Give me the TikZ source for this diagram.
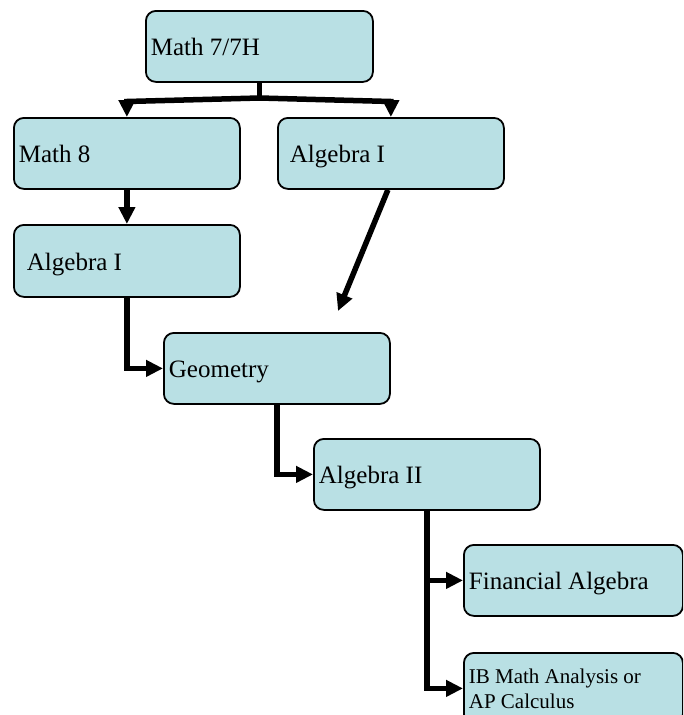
\documentclass[tikz,border=0pt]{standalone}
\usepackage{fontspec}
\setmainfont{Liberation Serif}
\usetikzlibrary{arrows.meta}
\definecolor{boxfill}{RGB}{185,224,228}
\begin{document}
\begin{tikzpicture}[x=1pt,y=-1pt,
  box/.style={draw=black, line width=1.8pt, fill=boxfill, rounded corners=10pt,
    anchor=north west, minimum height=71pt, inner ysep=0pt, align=flush left,
    font=\fontsize{25}{29}\selectfont},
  one/.style={text height=19pt, text depth=0pt},
  bar/.style={line width=5.5pt},
  conn/.style={line width=5.5pt, -{Triangle[width=16pt,length=17pt]}}
]
\clip (0,0) rectangle (683,715);

\node[box, one, inner xsep=5pt, text width=217pt] (m7) at (145,10) {Math 7/7H};
\node[box, one, inner xsep=5pt, text width=216pt] (m8) at (13,117) {Math 8};
\node[box, one, inner xsep=12pt, text width=202pt] (alg1r) at (277,117) {Algebra I};
\node[box, one, inner xsep=13pt, text width=200pt, minimum height=72pt] (alg1l) at (13,224) {Algebra I};
\node[box, one, inner xsep=5pt, text width=216pt] (geom) at (163,332) {Geometry};
\node[box, one, inner xsep=5pt, text width=216pt] (alg2) at (313,438) {Algebra II};
\node[box, one, inner xsep=5pt, text width=209pt] (fin) at (463,544) {Financial Algebra};
\node[box, inner xsep=5pt, text width=209pt, font=\fontsize{21}{25}\selectfont] (ib) at (463,652) {IB Math Analysis or\\AP Calculus};

\coordinate (hub) at (m7.south |- 0,98);
\coordinate (lend) at (m8.north |- 0,101.5);
\coordinate (rend) at (alg1r.north |- 0,101.5);
\coordinate (free) at (338,311);

\draw[bar] (m7.south) -- (hub);
\draw[bar, line cap=rect] (lend) -- (hub) -- (rend);
\draw[conn] (lend) -- (m8.north);
\draw[conn] (rend) -- (alg1r.north);
\draw[conn] (m8.south) -- (alg1l.north);
\draw[conn] ([xshift=-3pt]alg1r.south) -- (free);
\draw[conn] (alg1l.south) |- (geom.west);
\draw[conn] (geom.south) |- (alg2.west);
\draw[conn] (alg2.south) |- (fin.west);
\draw[conn] (alg2.south) |- (ib.west);
\end{tikzpicture}
\end{document}
